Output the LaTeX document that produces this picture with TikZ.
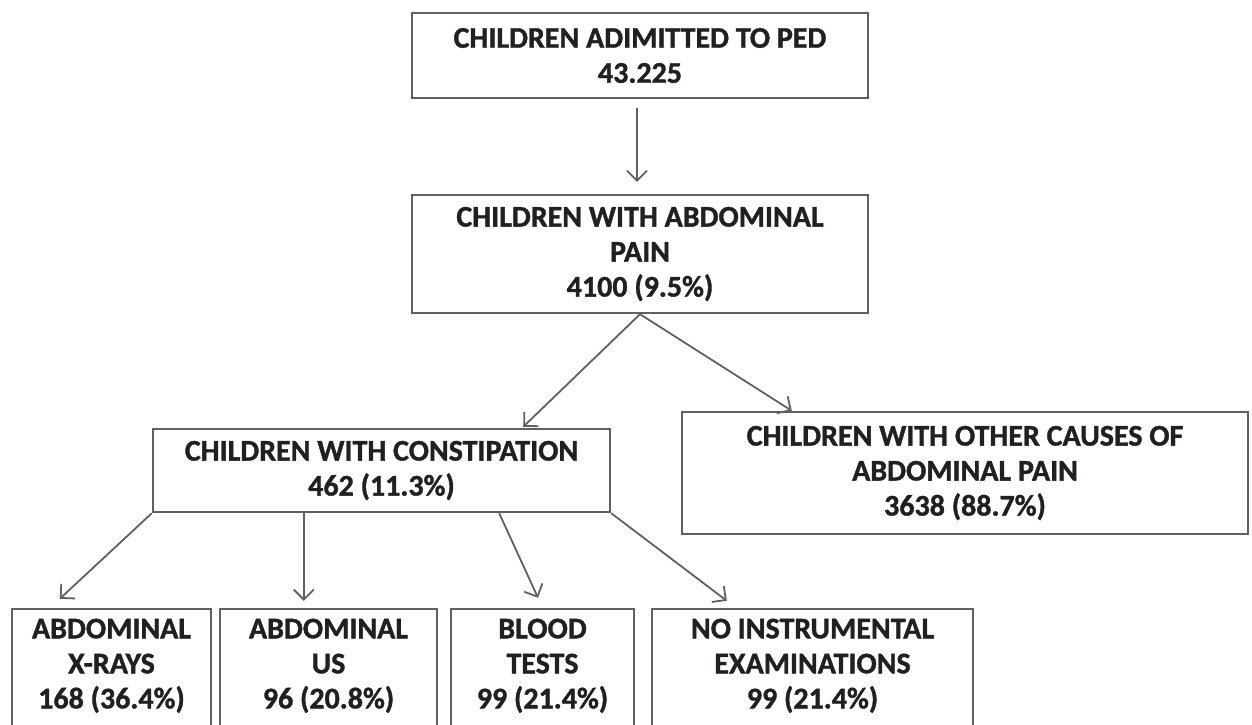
\documentclass[tikz,border=0pt]{standalone}
\usepackage{fontspec}
\setmainfont{Carlito}[BoldFeatures={FakeBold=1.2}]
\usetikzlibrary{arrows.meta}
\definecolor{edge}{HTML}{606060}
\definecolor{ink}{HTML}{231F20}
\begin{document}
\begin{tikzpicture}[x=1pt,y=-1pt,
    box/.style={draw=edge, line width=2.4pt, align=center, inner sep=0pt,
      text=ink, font=\fontsize{30}{35}\selectfont\bfseries},
    flow/.style={draw=edge, line width=1.8pt, -{Straight Barb[length=10pt,width=20pt,line width=1.8pt]}}]
  \useasboundingbox (0,0) rectangle (1252,724);
  \clip (0,0) rectangle (1252,724);
  % boxes
  \node[box, minimum width=456pt, minimum height=85pt] (adm) at (640,55.5) {CHILDREN ADIMITTED TO PED\\43.225};
  \node[box, minimum width=456pt, minimum height=118pt] (pain) at (640,254) {CHILDREN WITH ABDOMINAL\\PAIN\\4100 (9.5\%)};
  \node[box, minimum width=457pt, minimum height=83pt] (cons) at (381.5,470.5) {CHILDREN WITH CONSTIPATION\\462 (11.3\%)};
  \node[box, minimum width=566pt, minimum height=122pt] (other) at (965,473) {CHILDREN WITH OTHER CAUSES OF\\ABDOMINAL PAIN\\3638 (88.7\%)};
  % bottom row runs off the page
  \node[box, minimum width=199pt, minimum height=144pt] (xray) at (111.5,681) {ABDOMINAL\\X-RAYS\\168 (36.4\%)\\\mbox{}};
  \node[box, minimum width=217pt, minimum height=144pt] (us) at (328.5,681) {ABDOMINAL\\US\\96 (20.8\%)\\\mbox{}};
  \node[box, minimum width=183pt, minimum height=144pt] (blood) at (542.5,681) {BLOOD\\TESTS\\99 (21.4\%)\\\mbox{}};
  \node[box, minimum width=321pt, minimum height=144pt] (none) at (812.5,681) {NO INSTRUMENTAL\\EXAMINATIONS\\99 (21.4\%)\\\mbox{}};
  % arrows
  \draw[flow] ([xshift=-3pt,yshift=-9pt]adm.south) -- ([xshift=-3pt,yshift=12pt]pain.north);
  \draw[flow] (pain.south) -- ([xshift=-88pt,yshift=1pt]cons.north east);
  \draw[flow] (pain.south) -- ([xshift=111pt]other.north west);
  \draw[flow] (cons.south west) -- ([xshift=49pt,yshift=9pt]xray.north west);
  \draw[flow] ([xshift=152pt]cons.south west) -- ([xshift=85pt,yshift=7pt]us.north west);
  \draw[flow] ([xshift=-112pt]cons.south east) -- ([xshift=-4.5pt,yshift=10pt]blood.north);
  \draw[flow] (cons.south east) -- ([xshift=76pt,yshift=7pt]none.north west);
\end{tikzpicture}
\end{document}
